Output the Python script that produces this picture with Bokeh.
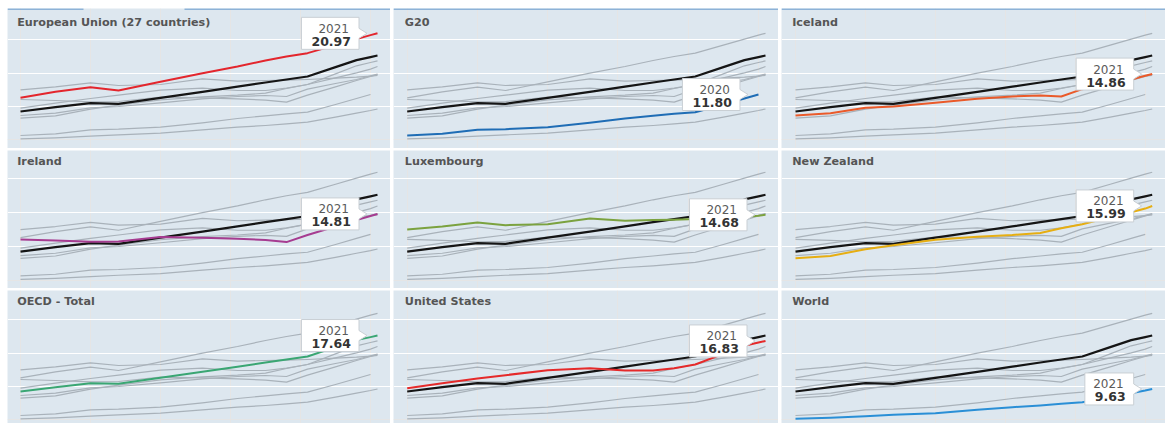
from bokeh.plotting import figure
from bokeh.layouts import gridplot
from bokeh.models import Range1d, Grid, FixedTicker, Label
from bokeh.core.properties import value
from bokeh.embed import file_html
from bokeh.resources import INLINE

# ---------------- data (share of population aged 65+, %) ----------------
years = [1970, 1975, 1980, 1984, 1990, 1996, 2001, 2005, 2008, 2011, 2015, 2018, 2020, 2021]

eu          = [11.3, 12.2, 12.9, 12.4, 13.7, 15.0, 16.0, 16.9, 17.5, 18.0, 19.2, 20.1, 20.7, 20.97]
g20         = [5.65, 5.9, 6.5, 6.6, 6.9, 7.55, 8.2, 8.6, 8.9, 9.15, 10.3, 11.2, 11.80, None]
iceland     = [8.65, 9.0, 9.8, 10.0, 10.55, 11.15, 11.5, 11.65, 11.5, 12.6, 13.45, 14.05, 14.6, 14.86]
ireland     = [11.05, 10.9, 10.7, 10.75, 11.4, 11.3, 11.15, 10.95, 10.65, 11.7, 12.95, 13.9, 14.5, 14.81]
luxembourg  = [12.5, 12.95, 13.55, 13.15, 13.3, 14.15, 13.8, 13.9, 13.95, 14.05, 14.25, 14.4, 14.55, 14.68]
new_zealand = [8.25, 8.6, 9.6, 10.2, 11.0, 11.45, 11.7, 12.0, 12.7, 13.3, 14.3, 15.05, 15.6, 15.99]
oecd        = [9.25, 9.9, 10.5, 10.4, 11.3, 12.2, 12.97, 13.6, 14.05, 14.5, 15.9, 16.95, 17.4, 17.64]
us          = [9.75, 10.5, 11.2, 11.7, 12.45, 12.75, 12.4, 12.4, 12.75, 13.3, 14.9, 16.1, 16.6, 16.83]
world       = [5.15, 5.3, 5.55, 5.75, 6.0, 6.5, 6.9, 7.15, 7.4, 7.65, 8.4, 9.0, 9.4, 9.63]

names = ["European Union (27 countries)", "G20", "Iceland", "Ireland", "Luxembourg",
         "New Zealand", "OECD - Total", "United States", "World"]
series = [eu, g20, iceland, ireland, luxembourg, new_zealand, oecd, us, world]
colors = ["#e3262d", "#1f6db5", "#ea5a2a", "#a63c91", "#7ba23f",
          "#e6ae12", "#3aa673", "#e52a2a", "#2a8fd6"]
REF = 6  # OECD - Total drawn in black as reference
grid_ticks = [10, 15, 20]

# ---------------- styling / geometry ----------------
BG = "#dde7ef"
GRAY = "#a9b2ba"
col_w = [383, 385, 384]
row_h = [140, 138, 133]
row_g20 = [31.3, 28.3, 29.3]     # px from top to the "20" gridline
row_scale = [6.67, 6.77, 6.67]   # px per unit
col_start = [13.0, 13.7, 14.0]   # px from left where 1970 sits
col_end = [370.0, 372.0, 370.7]  # px from left where 2021 sits
col_title = [9.7, 11.3, 10.7]
row_title = [13.5, 11.0, 10.7]
Y0, Y1 = years[0], years[-1]


def make_panel(k):
    r, c = divmod(k, 3)
    H = row_h[r]
    W = col_w[c]
    sy = row_scale[r]
    sx = (col_end[c] - col_start[c]) / (Y1 - Y0)
    xs0 = Y0 - col_start[c] / sx
    xs1 = xs0 + W / sx
    yt = 20 + row_g20[r] / sy
    yb = yt - H / sy
    p = figure(width=W, height=H, x_range=Range1d(xs0, xs1), y_range=Range1d(yb, yt),
               output_backend="svg", toolbar_location=None,
               x_axis_location=None, y_axis_location=None, min_border=0,
               background_fill_color=BG, border_fill_color="white",
               outline_line_color=None)
    p.add_layout(Grid(dimension=1, ticker=FixedTicker(ticks=grid_ticks),
                      grid_line_color="white", grid_line_width=1.2))

    def xy(vals):
        pts = [(yr, v) for yr, v in zip(years, vals) if v is not None]
        return [a for a, _ in pts], [b for _, b in pts]

    for i, vals in enumerate(series):
        if i in (k, REF):
            continue
        x, y = xy(vals)
        p.line(x, y, line_color=GRAY, line_width=1.2, line_join="round")
    if k != REF:
        x, y = xy(series[REF])
        p.line(x, y, line_color="#151515", line_width=2.2, line_join="round")
    x, y = xy(series[k])
    p.line(x, y, line_color=colors[k], line_width=2.0, line_join="round")

    # callout
    ye, ve = x[-1], y[-1]
    vtxt = "%.2f" % ve
    tw = sum(4.75 if ch == "." else 8.7 for ch in vtxt)
    bw = tw + 18
    R = ye - 18.5 / sx
    L = R - bw / sx
    T = ve + 16 / sy
    B = ve - 16 / sy
    px_ = [L, R, R, R + 8 / sx, R, R, L]
    py_ = [T, T, ve + 5 / sy, ve, ve - 5 / sy, B, B]
    p.patch(px_, py_, fill_color="white", line_color="#c9cfd4", line_width=1)
    p.text(x=[ye], y=[ve], text=[str(ye)], x_offset=-28.5, y_offset=-5,
           text_align="right", text_baseline="middle",
           text_font=value("DejaVu Sans"), text_font_size="12px", text_color="#5a5a5a")
    p.text(x=[ye], y=[ve], text=[vtxt], x_offset=-26.5, y_offset=8,
           text_align="right", text_baseline="middle",
           text_font=value("DejaVu Sans"), text_font_style="bold",
           text_font_size="12.5px", text_color="#333333")

    # title
    p.add_layout(Label(x=col_title[c], y=H - row_title[r], x_units="screen", y_units="screen",
                       text=names[k], text_font="DejaVu Sans", text_font_style="bold",
                       text_font_size="11.2px", text_color="#555555",
                       text_baseline="middle"))

    # thin blue strip on top of first row
    if r == 0:
        ytop = yt - 0.5 / sy
        if c == 0:
            p.segment(x0=[xs0, xs0 + 177 / sx], y0=[ytop, ytop],
                      x1=[xs0 + 76 / sx, xs1], y1=[ytop, ytop],
                      line_color="#3f7fbf", line_width=1)
        else:
            p.segment(x0=[xs0], y0=[ytop], x1=[xs1], y1=[ytop],
                      line_color="#3f7fbf", line_width=1)
    return p


panels = [make_panel(k) for k in range(9)]
grid = gridplot([panels[0:3], panels[3:6], panels[6:9]], toolbar_location=None)
grid.spacing = (2, 3)
grid.margin = (8, 0, 0, 7)

open("out.html", "w").write(file_html(grid, INLINE))
